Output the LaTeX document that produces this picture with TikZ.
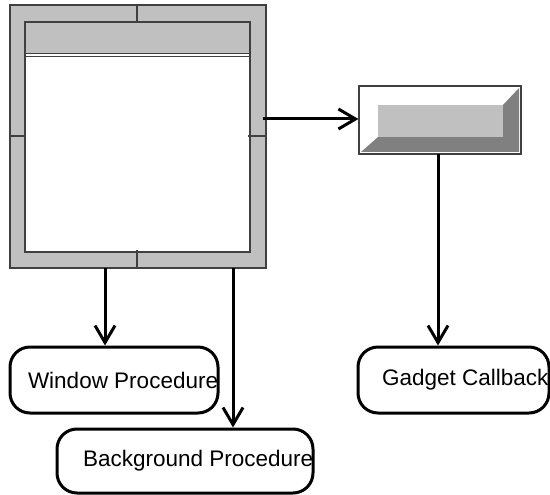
\documentclass[tikz,border=0pt]{standalone}
\usepackage{fontspec}
\setmainfont{Liberation Sans}
\usetikzlibrary{arrows.meta}
\definecolor{panel}{HTML}{C0C0C0}
\definecolor{bevel}{HTML}{808080}
\definecolor{edge}{HTML}{404040}
\tikzset{
  thin edge/.style={draw=edge, line width=1.2pt},
  hair edge/.style={draw=edge, line width=0.9pt},
  arr/.style={line width=3pt, -{Straight Barb[length=17pt, width=20pt, line width=3pt]}},
  proc/.style={draw=black, line width=3pt, fill=white, rounded corners=20pt,
    inner xsep=0pt, inner ysep=0pt, font=\fontsize{22.5}{26}\selectfont},
}
\begin{document}
\begin{tikzpicture}[x=1pt, y=-1pt]
\useasboundingbox (0,0) rectangle (550,495);

% window frame
\node[thin edge, fill=panel, minimum width=256pt, minimum height=263pt, inner sep=0pt]
  (win) at (138,136.5) {};
\draw[thin edge, fill=white] (25,22) rectangle (250,252);
\fill[panel] (25,22) rectangle (250,53);
\draw[thin edge] (25,53) -- (25,22) -- (250,22) -- (250,53);
\draw[hair edge] (25,53) -- (250,53);
\draw[hair edge] (25,56.5) -- (250,56.5);
\draw[thin edge] (137,5) -- (137,22);
\draw[thin edge] (137,250) -- (137,268);
\draw[thin edge] (10,136) -- (25,136);
\draw[thin edge] (248,136) -- (265,136);

% gadget (bevelled button)
\node[thin edge, fill=white, minimum width=162pt, minimum height=68pt, inner sep=0pt]
  (gad) at (440,120) {};
\fill[bevel] (361,152) -- (378,137) -- (503,137) -- (503,105) -- (519,88) -- (519,152) -- cycle;
\fill[panel] (378,105) rectangle (503,137);

% procedures
\node[proc, minimum width=208pt, minimum height=66pt] (wproc) at (114,380)
  {\makebox[172pt][l]{Window Procedure}};
\node[proc, minimum width=256pt, minimum height=64pt] (bproc) at (185,461)
  {\makebox[204pt][l]{Background Procedure}};
\node[proc, minimum width=191pt, minimum height=66pt] (gcb) at (453.5,380)
  {\makebox[143pt][l]{Gadget Callback}};

% connectors
\coordinate (winR) at (263,119);
\coordinate (winB1) at (105,268);
\coordinate (winB2) at (233,268);
\coordinate (gadB) at (438,154);
\draw[arr] (winR) -- (winR -| gad.west);
\draw[arr] (winB1) -- (winB1 |- wproc.north);
\draw[arr] (winB2) -- (winB2 |- bproc.north);
\draw[arr] (gadB) -- (gadB |- gcb.north);
\end{tikzpicture}
\end{document}
